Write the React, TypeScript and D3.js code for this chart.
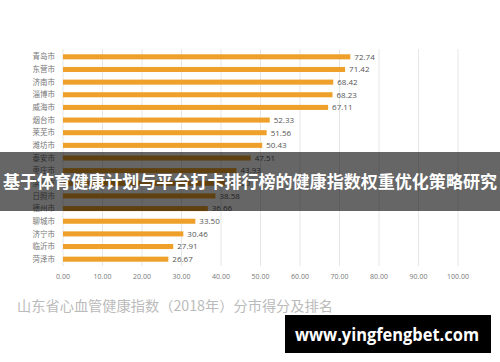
import React from "react";
import * as d3 from "d3";

const cities = ["青岛市","东营市","济南市","淄博市","威海市","烟台市","莱芜市","潍坊市","泰安市","枣庄市","滨州市","日照市","德州市","聊城市","济宁市","临沂市","菏泽市"];
const scores = [72.74,71.42,68.42,68.23,67.11,52.33,51.56,50.43,47.51,43.93,41.2,38.58,36.66,33.50,30.46,27.91,26.67];
const ticks = [0,10,20,30,40,50,60,70,80,90,100];
const chartTitle = "山东省心血管健康指数（2018年）分市得分及排名";
const bannerText = "基于体育健康计划与平台打卡排行榜的健康指数权重优化策略研究";
const siteText = "www.yingfengbet.com";

export default function App() {
  const W = 500, H = 362;
  const x = d3.scaleLinear().domain([0, 100]).range([63, 458]);
  const y = d3.scaleBand<string>().domain(cities).range([50.5, 265.5]).paddingInner(0.6).paddingOuter(0.3);
  const bw = y.bandwidth();
  const serif = "'Noto Sans CJK SC', serif";
  const sans = "'Noto Sans CJK SC', 'Noto Sans', sans-serif";
  return (
    <svg width={W} height={H} style={{ position: "absolute", left: 0, top: 0, background: "#fff" }}>
      <rect x={0} y={0} width={W} height={H} fill="#fff" />
      {ticks.map(t => (
        <line key={t} x1={x(t)} x2={x(t)} y1={49} y2={266} stroke="#e6e6e6" strokeWidth={1} />
      ))}
      {cities.map((c, i) => (
        <g key={c}>
          <rect x={x(0)} y={y(c)!} width={x(scores[i]) - x(0)} height={bw} fill="#eea02a" />
          <text x={55} y={y(c)! + bw / 2} dy="0.35em" textAnchor="end" fontSize={7.5} fill="#777" fontFamily={serif}>{c}</text>
          <text x={x(scores[i]) + 4} y={y(c)! + bw / 2} dy="0.35em" fontSize={8} fill="#555" fontFamily="'Open Sans', sans-serif">{scores[i].toFixed(2)}</text>
        </g>
      ))}
      {ticks.map(t => (
        <text key={t} x={x(t)} y={277} dy="0.35em" textAnchor="middle" fontSize={7} fill="#777" fontFamily="'Open Sans', sans-serif">{t.toFixed(2)}</text>
      ))}
      <text x={17} y={306} dy="0.35em" fontSize={14} fill="#bbb" fontFamily={sans} textLength={316} lengthAdjust="spacingAndGlyphs">{chartTitle}</text>
      <rect x={0} y={152} width={W} height={59} fill="#000" fillOpacity={0.6} />
      <text x={250} y={182} dy="0.35em" textAnchor="middle" fontSize={17} fontWeight="bold" fill="#fff" fontFamily={sans} textLength={494} lengthAdjust="spacingAndGlyphs">{bannerText}</text>
      <rect x={285} y={315} width={206} height={38} fill="#000" />
      <text x={387} y={335} dy="0.35em" textAnchor="middle" fontSize={17} fontWeight="bold" fill="#fff" fontFamily="'Open Sans', 'DejaVu Sans', sans-serif" textLength={184} lengthAdjust="spacingAndGlyphs">{siteText}</text>
    </svg>
  );
}
